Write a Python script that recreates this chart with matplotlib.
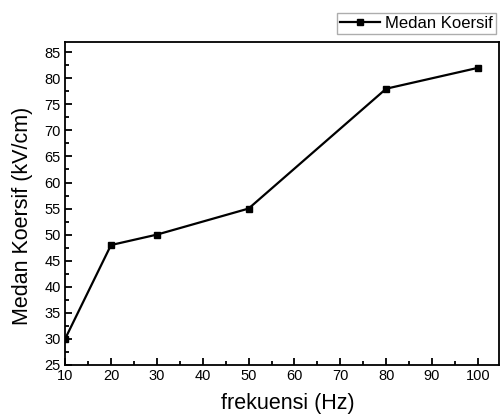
import matplotlib
matplotlib.use("Agg")
import matplotlib.pyplot as plt
from matplotlib.ticker import MultipleLocator

plt.rcParams["font.family"] = ["Liberation Sans", "DejaVu Sans"]

FREQ = [10, 20, 30, 50, 80, 100]
KOERSIF = [30, 48, 50, 55, 78, 82]
X_TICKS = [10, 20, 30, 40, 50, 60, 70, 80, 90, 100]
Y_TICKS = [25, 30, 35, 40, 45, 50, 55, 60, 65, 70, 75, 80, 85]

fig = plt.figure(figsize=(5.01, 4.18), dpi=100)
ax = fig.add_axes([0.13, 0.127, 0.866, 0.773])

ax.plot(FREQ, KOERSIF, color="black", lw=1.6, marker="s", ms=5, label="Medan Koersif")

ax.set_xlim(10, 104.6)
ax.set_ylim(25, 87)
ax.set_xticks(X_TICKS)
ax.set_yticks(Y_TICKS)
ax.xaxis.set_minor_locator(MultipleLocator(5))
ax.yaxis.set_minor_locator(MultipleLocator(2.5))
ax.tick_params(which="both", direction="in", top=False, right=False, labelsize=10.5, width=1.3)
ax.tick_params(which="major", length=5, pad=3)
ax.tick_params(which="minor", length=3)
for s in ax.spines.values():
    s.set_linewidth(1.3)

ax.set_xlabel("frekuensi (Hz)", fontsize=15.5)
ax.set_ylabel("Medan Koersif (kV/cm)", fontsize=15.5)
# label centres, in pixels
ax.xaxis.set_label_coords((288 - 65) / 434, -(404 - 365) / 323)
ax.yaxis.set_label_coords(-(65 - 22) / 434, (365 - 216) / 323)
ax.xaxis.label.set_va("center")
ax.yaxis.label.set_va("center")

ax.legend(loc="upper right", bbox_to_anchor=(0.994, 1.0 + (42 - 13) / 323), fontsize=12,
          frameon=True, fancybox=False, edgecolor="#999999", borderpad=0.2,
          handlelength=2.4, handletextpad=0.3, borderaxespad=0)

fig.savefig("out.png", dpi=100)
